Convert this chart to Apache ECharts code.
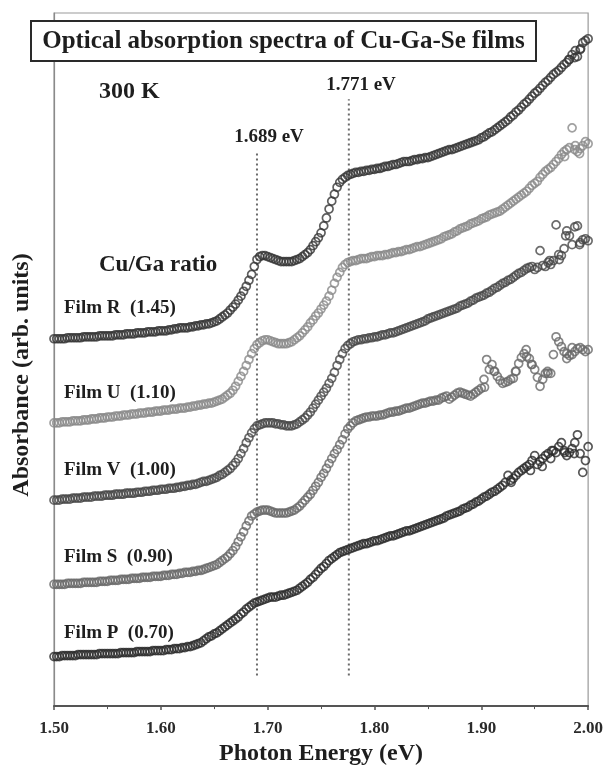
<!DOCTYPE html>
<html>
<head>
<meta charset="utf-8">
<script src="https://cdn.jsdelivr.net/npm/echarts@6/dist/echarts.min.js"></script>
<style>html,body{margin:0;padding:0;background:#fff}#c{width:606px;height:771px}</style>
</head>
<body>
<div id="c"></div>
<script>
// Photon energy grid (eV)
const energies = [
1.500,1.505,1.510,1.515,1.520,1.525,1.530,1.535,1.540,1.545,
1.550,1.555,1.560,1.565,1.570,1.575,1.580,1.585,1.590,1.595,
1.600,1.605,1.610,1.615,1.620,1.625,1.630,1.635,1.640,1.645,
1.650,1.655,1.660,1.665,1.670,1.675,1.680,1.685,1.690,1.695,
1.700,1.705,1.710,1.715,1.720,1.725,1.730,1.735,1.740,1.745,
1.750,1.755,1.760,1.765,1.770,1.775,1.780,1.785,1.790,1.795,
1.800,1.805,1.810,1.815,1.820,1.825,1.830,1.835,1.840,1.845,
1.850,1.855,1.860,1.865,1.870,1.875,1.880,1.885,1.890,1.895,
1.900,1.905,1.910,1.915,1.920,1.925,1.930,1.935,1.940,1.945,
1.950,1.955,1.960,1.965,1.970,1.975,1.980,1.985,1.990,1.995,
2.000];
const energiesMid = [
1.5025,1.5075,1.5125,1.5175,1.5225,1.5275,1.5325,1.5375,1.5425,1.5475,
1.5525,1.5575,1.5625,1.5675,1.5725,1.5775,1.5825,1.5875,1.5925,1.5975,
1.6025,1.6075,1.6125,1.6175,1.6225,1.6275,1.6325,1.6375,1.6425,1.6475,
1.6525,1.6575,1.6625,1.6675,1.6725,1.6775,1.6825,1.6875,1.6925,1.6975,
1.7025,1.7075,1.7125,1.7175,1.7225,1.7275,1.7325,1.7375,1.7425,1.7475,
1.7525,1.7575,1.7625,1.7675,1.7725,1.7775,1.7825,1.7875,1.7925,1.7975,
1.8025,1.8075,1.8125,1.8175,1.8225,1.8275,1.8325,1.8375,1.8425,1.8475,
1.8525,1.8575,1.8625,1.8675,1.8725,1.8775,1.8825,1.8875,1.8925,1.8975,
1.9025,1.9075,1.9125,1.9175,1.9225,1.9275,1.9325,1.9375,1.9425,1.9475,
1.9525,1.9575,1.9625,1.9675,1.9725,1.9775,1.9825,1.9875,1.9925,1.9975];

// Absorbance (arb. units, vertically offset) per film, on the grid above
const filmR = [
3.71,3.71,3.71,3.72,3.72,3.72,3.73,3.73,3.73,3.74,
3.74,3.74,3.75,3.75,3.76,3.76,3.77,3.77,3.78,3.78,
3.79,3.79,3.80,3.81,3.82,3.82,3.83,3.84,3.85,3.86,
3.88,3.91,3.95,4.00,4.06,4.14,4.24,4.36,4.51,4.55,
4.54,4.52,4.50,4.49,4.49,4.50,4.52,4.56,4.61,4.69,
4.78,4.93,5.10,5.24,5.32,5.36,5.38,5.39,5.40,5.41,
5.42,5.43,5.45,5.46,5.47,5.49,5.50,5.51,5.52,5.53,
5.54,5.56,5.58,5.60,5.62,5.63,5.65,5.67,5.69,5.71,
5.74,5.77,5.80,5.84,5.88,5.92,5.97,6.02,6.08,6.13,
6.19,6.24,6.30,6.35,6.40,6.45,6.50,6.58,6.56,6.70,
6.74];
const filmRMid = [
3.71,3.71,3.72,3.72,3.72,3.73,3.73,3.73,3.74,3.74,
3.74,3.75,3.75,3.76,3.76,3.77,3.77,3.78,3.78,3.79,
3.79,3.80,3.81,3.82,3.82,3.83,3.84,3.85,3.86,3.87,
3.89,3.93,3.97,4.03,4.10,4.19,4.30,4.44,4.54,4.55,
4.53,4.51,4.49,4.49,4.49,4.51,4.54,4.58,4.65,4.73,
4.85,5.02,5.17,5.29,5.34,5.37,5.39,5.40,5.41,5.42,
5.43,5.44,5.45,5.47,5.48,5.50,5.50,5.52,5.53,5.54,
5.55,5.57,5.59,5.61,5.62,5.64,5.66,5.68,5.70,5.72,
5.75,5.79,5.82,5.86,5.90,5.95,6.00,6.05,6.10,6.16,
6.21,6.27,6.32,6.38,6.42,6.48,6.53,6.55,6.63,6.72];
const filmU = [
2.86,2.86,2.87,2.87,2.88,2.88,2.89,2.90,2.90,2.91,
2.92,2.92,2.93,2.94,2.94,2.95,2.96,2.96,2.97,2.98,
2.98,2.99,3.00,3.00,3.01,3.02,3.03,3.04,3.05,3.06,
3.07,3.09,3.12,3.16,3.23,3.33,3.44,3.56,3.65,3.69,
3.70,3.68,3.66,3.66,3.67,3.70,3.74,3.80,3.87,3.94,
4.01,4.09,4.20,4.33,4.43,4.48,4.50,4.51,4.52,4.53,
4.54,4.55,4.56,4.57,4.58,4.59,4.61,4.62,4.64,4.65,
4.67,4.69,4.71,4.74,4.76,4.79,4.82,4.84,4.87,4.89,
4.92,4.94,4.97,4.99,5.02,5.06,5.10,5.14,5.18,5.23,
5.28,5.34,5.40,5.44,5.50,5.57,5.62,5.84,5.60,5.66,
5.68];
const filmUMid = [
2.86,2.87,2.87,2.88,2.88,2.89,2.89,2.90,2.91,2.91,
2.92,2.93,2.93,2.94,2.95,2.95,2.96,2.97,2.97,2.98,
2.99,2.99,3.00,3.01,3.01,3.02,3.03,3.04,3.05,3.06,
3.08,3.10,3.14,3.19,3.28,3.38,3.50,3.61,3.67,3.70,
3.69,3.67,3.66,3.66,3.68,3.72,3.77,3.83,3.90,3.97,
4.05,4.14,4.27,4.38,4.46,4.49,4.50,4.52,4.52,4.54,
4.55,4.55,4.56,4.58,4.59,4.60,4.61,4.63,4.64,4.66,
4.68,4.70,4.72,4.75,4.77,4.80,4.83,4.85,4.88,4.90,
4.93,4.96,4.98,5.00,5.04,5.08,5.12,5.16,5.20,5.26,
5.30,5.37,5.42,5.47,5.53,5.60,5.64,5.62,5.63,5.70];
const filmV = [
2.08,2.08,2.09,2.09,2.10,2.10,2.11,2.11,2.12,2.12,
2.13,2.13,2.14,2.14,2.15,2.15,2.16,2.17,2.17,2.18,
2.19,2.19,2.20,2.21,2.22,2.23,2.24,2.25,2.27,2.28,
2.30,2.33,2.36,2.40,2.46,2.55,2.66,2.76,2.83,2.85,
2.86,2.86,2.85,2.84,2.83,2.84,2.87,2.91,2.97,3.05,
3.13,3.21,3.31,3.44,3.56,3.64,3.68,3.70,3.71,3.72,
3.73,3.74,3.75,3.77,3.78,3.80,3.82,3.84,3.86,3.88,
3.91,3.93,3.95,3.97,3.99,4.01,4.04,4.06,4.09,4.12,
4.14,4.17,4.20,4.23,4.27,4.30,4.33,4.37,4.40,4.43,
4.41,4.60,4.44,4.46,4.86,4.55,4.80,4.66,4.85,4.71,
4.70];
const filmVMid = [
2.08,2.09,2.09,2.10,2.10,2.11,2.11,2.12,2.12,2.13,
2.13,2.14,2.14,2.15,2.15,2.16,2.16,2.17,2.18,2.18,
2.19,2.20,2.20,2.21,2.22,2.23,2.24,2.26,2.27,2.29,
2.31,2.34,2.38,2.43,2.50,2.60,2.71,2.80,2.84,2.86,
2.86,2.85,2.84,2.83,2.83,2.85,2.89,2.94,3.01,3.09,
3.17,3.26,3.37,3.50,3.61,3.66,3.69,3.70,3.71,3.72,
3.73,3.75,3.76,3.77,3.79,3.81,3.83,3.85,3.87,3.89,
3.92,3.94,3.96,3.98,4.00,4.02,4.05,4.07,4.10,4.13,
4.15,4.18,4.22,4.25,4.28,4.31,4.35,4.38,4.42,4.44,
4.43,4.45,4.48,4.50,4.56,4.62,4.75,4.84,4.68,4.72];
const filmS = [
1.23,1.23,1.23,1.24,1.24,1.24,1.25,1.25,1.25,1.26,
1.26,1.27,1.27,1.28,1.28,1.29,1.29,1.30,1.30,1.31,
1.31,1.32,1.33,1.33,1.34,1.35,1.36,1.37,1.38,1.40,
1.42,1.45,1.49,1.54,1.61,1.71,1.82,1.92,1.96,1.98,
1.98,1.96,1.95,1.95,1.96,1.98,2.02,2.08,2.14,2.22,
2.31,2.40,2.50,2.59,2.69,2.80,2.86,2.89,2.91,2.92,
2.93,2.94,2.95,2.97,2.98,2.99,3.01,3.02,3.04,3.06,
3.07,3.08,3.09,3.12,3.10,3.14,3.17,3.15,3.13,3.17,
3.21,3.50,3.45,3.33,3.26,3.28,3.31,3.46,3.56,3.51,
3.40,3.23,3.36,3.36,3.73,3.63,3.51,3.55,3.61,3.60,
3.60];
const filmSMid = [
1.23,1.23,1.24,1.24,1.24,1.25,1.25,1.25,1.26,1.26,
1.27,1.27,1.28,1.28,1.29,1.29,1.30,1.30,1.31,1.31,
1.32,1.32,1.33,1.34,1.35,1.35,1.36,1.37,1.39,1.41,
1.43,1.47,1.51,1.57,1.66,1.76,1.87,1.94,1.97,1.98,
1.97,1.95,1.95,1.95,1.97,2.00,2.05,2.11,2.18,2.26,
2.35,2.45,2.55,2.64,2.75,2.83,2.88,2.90,2.92,2.93,
2.93,2.94,2.96,2.97,2.98,3.00,3.01,3.03,3.05,3.06,
3.08,3.09,3.11,3.13,3.12,3.16,3.16,3.14,3.15,3.19,
3.30,3.40,3.38,3.29,3.27,3.30,3.38,3.52,3.53,3.45,
3.32,3.30,3.36,3.55,3.68,3.58,3.54,3.58,3.62,3.58];
const filmP = [
0.50,0.50,0.51,0.51,0.51,0.52,0.52,0.52,0.52,0.53,
0.53,0.53,0.53,0.54,0.54,0.54,0.55,0.55,0.55,0.56,
0.56,0.57,0.57,0.58,0.59,0.60,0.61,0.63,0.66,0.70,
0.73,0.76,0.80,0.84,0.88,0.93,0.98,1.02,1.05,1.07,
1.09,1.10,1.11,1.12,1.14,1.16,1.19,1.23,1.28,1.33,
1.39,1.44,1.49,1.53,1.56,1.58,1.60,1.62,1.64,1.65,
1.67,1.68,1.70,1.72,1.73,1.75,1.77,1.78,1.80,1.82,
1.84,1.86,1.88,1.90,1.93,1.95,1.97,2.00,2.03,2.06,
2.09,2.12,2.16,2.19,2.23,2.33,2.30,2.36,2.40,2.44,
2.53,2.47,2.53,2.50,2.56,2.66,2.53,2.60,2.74,2.36,
2.62];
const filmPMid = [
0.50,0.51,0.51,0.51,0.52,0.52,0.52,0.52,0.53,0.53,
0.53,0.53,0.54,0.54,0.54,0.55,0.55,0.55,0.56,0.56,
0.56,0.57,0.58,0.58,0.59,0.60,0.62,0.64,0.68,0.71,
0.74,0.78,0.82,0.86,0.90,0.95,1.00,1.04,1.06,1.08,
1.10,1.10,1.12,1.13,1.15,1.17,1.21,1.25,1.30,1.36,
1.41,1.47,1.51,1.55,1.57,1.59,1.61,1.63,1.64,1.66,
1.67,1.69,1.71,1.72,1.74,1.76,1.77,1.79,1.81,1.83,
1.85,1.87,1.89,1.92,1.94,1.96,1.99,2.01,2.04,2.07,
2.11,2.14,2.17,2.21,2.26,2.28,2.33,2.38,2.42,2.48,
2.44,2.50,2.55,2.58,2.62,2.58,2.56,2.66,2.55,2.48];

// extra scattered points near the high-energy end [eV, absorbance]
const extraR = [[1.988,6.62],[1.993,6.64],[1.982,6.53]];
const extraU = [[1.988,5.66],[1.992,5.58],[1.978,5.55]];
const extraV = [[1.979,4.75],[1.992,4.66],[1.973,4.51],[1.964,4.50]];
const extraS = [[1.903,3.22],[1.912,3.38],[1.932,3.38],[1.942,3.60],[1.947,3.45],[1.962,3.38],[1.980,3.56],[1.985,3.62]];
const extraP = [[1.928,2.26],[1.946,2.38],[1.957,2.42],[1.966,2.58],[1.978,2.56],[1.987,2.55]];

const filmNames = ['Film R  (1.45)','Film U  (1.10)','Film V  (1.00)','Film S  (0.90)','Film P  (0.70)'];
const filmColors = ['#363636','#8a8a8a','#474747','#696969','#2c2c2c'];

// reference energies (vertical dotted lines)
const lineEnergies = [1.690, 1.776];
const lineLabels = ['1.689 eV','1.771 eV'];
const lineTops = [5.60, 6.13];
const lineBottom = 0.31;

const xTicks = ['1.50','1.60','1.70','1.80','1.90','2.00'];

const FONT = '"Liberation Serif", "Times New Roman", serif';

const films = [filmR, filmU, filmV, filmS, filmP];
const filmsMid = [filmRMid, filmUMid, filmVMid, filmSMid, filmPMid];
const extras = [extraR, extraU, extraV, extraS, extraP];

const series = [];
films.forEach((vals, i) => {
  const d = energies.map((e, k) => [e, vals[k]])
    .concat(energiesMid.map((e, k) => [e, filmsMid[i][k]]))
    .concat(extras[i]);
  series.push({
    type: 'scatter', name: filmNames[i], data: d,
    symbol: 'circle', symbolSize: 8,
    itemStyle: { color: 'rgba(0,0,0,0)', borderColor: filmColors[i], borderWidth: 1.7 },
    z: 3
  });
});
lineEnergies.forEach((e, i) => {
  series.push({
    type: 'line', data: [[e, lineBottom], [e, lineTops[i]]],
    symbol: 'none', lineStyle: { color: '#6a6a6a', width: 2, type: [2, 3] }, z: 2, silent: true
  });
});

const chart = echarts.init(document.getElementById('c'), null, { renderer: 'canvas' });

const txt = (text, x, y, size, align) => ({
  type: 'text', x: x, y: y, z: 100,
  style: { text: text, font: 'bold ' + size + 'px ' + FONT, fill: '#1e1e1e',
           textAlign: align || 'left', textVerticalAlign: 'middle' }
});

const graphics = [
  { type: 'rect', z: 99, shape: { x: 31, y: 21, width: 505, height: 40 },
    style: { fill: '#fff', stroke: '#2a2a2a', lineWidth: 2 } },
  txt('Optical absorption spectra of Cu-Ga-Se films', 283.5, 41.5, 25, 'center'),
  txt('300 K', 99, 92, 24, 'left'),
  txt(lineLabels[1], 361, 85, 19, 'center'),
  txt(lineLabels[0], 269, 137, 19, 'center'),
  txt('Cu/Ga ratio', 99, 265, 23, 'left'),
  txt(filmNames[0], 64, 308, 19, 'left'),
  txt(filmNames[1], 64, 393, 19, 'left'),
  txt(filmNames[2], 64, 470, 19, 'left'),
  txt(filmNames[3], 64, 557, 19, 'left'),
  txt(filmNames[4], 64, 633, 19, 'left'),
  { type: 'text', x: 22, y: 375, rotation: Math.PI / 2, z: 100,
    style: { text: 'Absorbance (arb. units)', font: 'bold 24px ' + FONT, fill: '#1e1e1e',
             textAlign: 'center', textVerticalAlign: 'middle' } }
];

chart.setOption({
  animation: false,
  backgroundColor: '#fff',
  grid: { left: 54, right: 17, top: 13, bottom: 58, show: true, borderColor: '#9a9a9a', borderWidth: 1.2 },
  xAxis: {
    type: 'value', min: 1.5, max: 2.0, interval: 0.1,
    name: 'Photon Energy (eV)', nameLocation: 'middle', nameGap: 35,
    nameTextStyle: { fontFamily: FONT, fontWeight: 'bold', fontSize: 24, color: '#1e1e1e' },
    axisLine: { show: true, lineStyle: { color: '#555', width: 2 } },
    axisTick: { show: true, inside: false, length: 4, lineStyle: { color: '#555', width: 1.5 } },
    minorTick: { show: true, splitNumber: 2, length: 3, lineStyle: { color: '#555' } },
    axisLabel: { margin: 14, fontFamily: FONT, fontWeight: 'bold', fontSize: 17, color: '#2a2a2a',
                 formatter: v => xTicks.find(t => Math.abs(parseFloat(t) - v) < 1e-6) || '' },
    splitLine: { show: false }
  },
  yAxis: {
    type: 'value', min: 0, max: 7,
    axisLine: { show: true, lineStyle: { color: '#8a8a8a', width: 1.2 } },
    axisTick: { show: false }, axisLabel: { show: false }, splitLine: { show: false }
  },
  graphic: graphics,
  series: series
});
</script>
</body>
</html>
